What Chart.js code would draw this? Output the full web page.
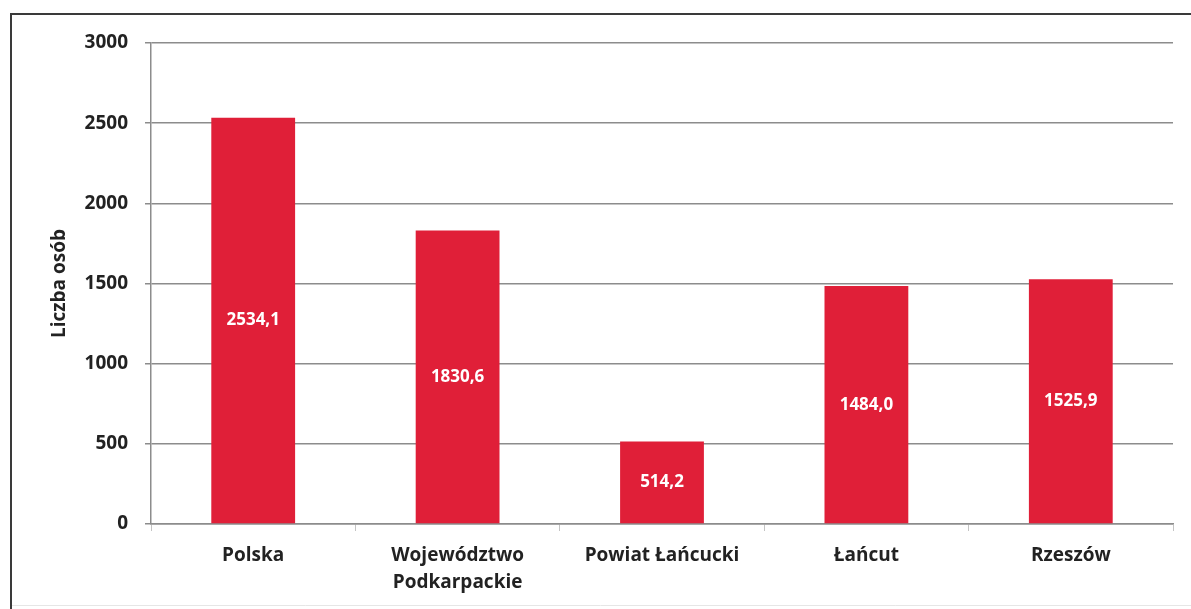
<!DOCTYPE html>
<html lang="pl">
<head>
<meta charset="utf-8">
<title>Liczba osób</title>
<script src="https://cdn.jsdelivr.net/npm/chart.js@4/dist/chart.umd.min.js"></script>
<style>
  html, body { margin: 0; padding: 0; background: #ffffff; }
  #wrap { position: relative; width: 1191px; height: 609px; }
</style>
</head>
<body>
<div id="wrap"><canvas id="chart" width="1191" height="609"></canvas></div>
<script>
// Categories and values (liczba osób)
const categories = ['Polska', ['Województwo', 'Podkarpackie'], 'Powiat Łańcucki', 'Łańcut', 'Rzeszów'];
const values = [2534.1, 1830.6, 514.2, 1484.0, 1525.9];
const yTicks = [0, 500, 1000, 1500, 2000, 2500, 3000];
const yTitle = 'Liczba osób';

const FONT = "'Open Sans', 'DejaVu Sans', sans-serif";
const BAR_RED = '#e01f38';
const GRID = '#8c8c8c';

// Formats a number the Polish way: one decimal, comma separator
const fmt = v => v.toFixed(1).replace('.', ',');

// White background and the frame around the figure
const framePlugin = {
  id: 'frame',
  beforeDraw(chart) {
    const { ctx, width, height } = chart;
    ctx.save();
    ctx.fillStyle = '#ffffff';
    ctx.fillRect(0, 0, width, height);
    ctx.strokeStyle = '#e6e6e6';
    ctx.lineWidth = 1;
    ctx.beginPath();
    ctx.moveTo(10, height - 3.5);
    ctx.lineTo(width, height - 3.5);
    ctx.stroke();
    ctx.strokeStyle = '#3a3a3a';
    ctx.lineWidth = 2;
    ctx.beginPath();
    ctx.moveTo(11, height);
    ctx.lineTo(11, 14);
    ctx.lineTo(width, 14);
    ctx.stroke();
    ctx.restore();
  }
};

// Value labels centred inside each bar
const valueLabels = {
  id: 'valueLabels',
  afterDatasetsDraw(chart) {
    const { ctx } = chart;
    const meta = chart.getDatasetMeta(0);
    ctx.save();
    ctx.fillStyle = '#ffffff';
    ctx.font = `bold 17px ${FONT}`;
    ctx.textAlign = 'center';
    ctx.textBaseline = 'middle';
    meta.data.forEach((bar, i) => {
      const v = chart.data.datasets[0].data[i];
      ctx.fillText(fmt(v), bar.x, (bar.y + bar.base) / 2);
    });
    ctx.restore();
  }
};

new Chart(document.getElementById('chart'), {
  type: 'bar',
  data: {
    labels: categories,
    datasets: [{
      data: values,
      backgroundColor: BAR_RED,
      borderWidth: 0,
      barPercentage: 0.41,
      categoryPercentage: 1.0
    }]
  },
  options: {
    responsive: false,
    animation: false,
    events: [],
    layout: { padding: { left: 40, right: 18, top: 43, bottom: 0 } },
    plugins: {
      legend: { display: false },
      tooltip: { enabled: false },
      title: { display: false }
    },
    scales: {
      x: {
        offset: true,
        grid: {
          offset: true,
          drawOnChartArea: false,
          drawTicks: true,
          tickLength: 7,
          color: '#c4c4c4',
          lineWidth: 1
        },
        border: { display: true, color: GRID, width: 1.5 },
        ticks: {
          color: '#222222',
          padding: 11,
          maxRotation: 0,
          autoSkip: false,
          font: { family: FONT, size: 19, weight: 'bold', lineHeight: 1.42 }
        },
        afterFit(scale) { scale.height = 85; }
      },
      y: {
        min: 0,
        max: 3000,
        afterBuildTicks(scale) { scale.ticks = yTicks.map(v => ({ value: v })); },
        grid: {
          color: GRID,
          lineWidth: 1.5,
          drawTicks: true,
          tickLength: 6
        },
        border: { display: true, color: GRID, width: 1.5 },
        ticks: {
          color: '#222222',
          padding: 17,
          callback: v => String(v),
          font: { family: FONT, size: 19, weight: 'bold' }
        },
        title: {
          display: true,
          text: yTitle,
          color: '#222222',
          padding: { top: 8, bottom: 0 },
          font: { family: FONT, size: 19, weight: 'bold' }
        },
        afterFit(scale) { scale.width = 111; }
      }
    }
  },
  plugins: [framePlugin, valueLabels]
});
</script>
</body>
</html>
